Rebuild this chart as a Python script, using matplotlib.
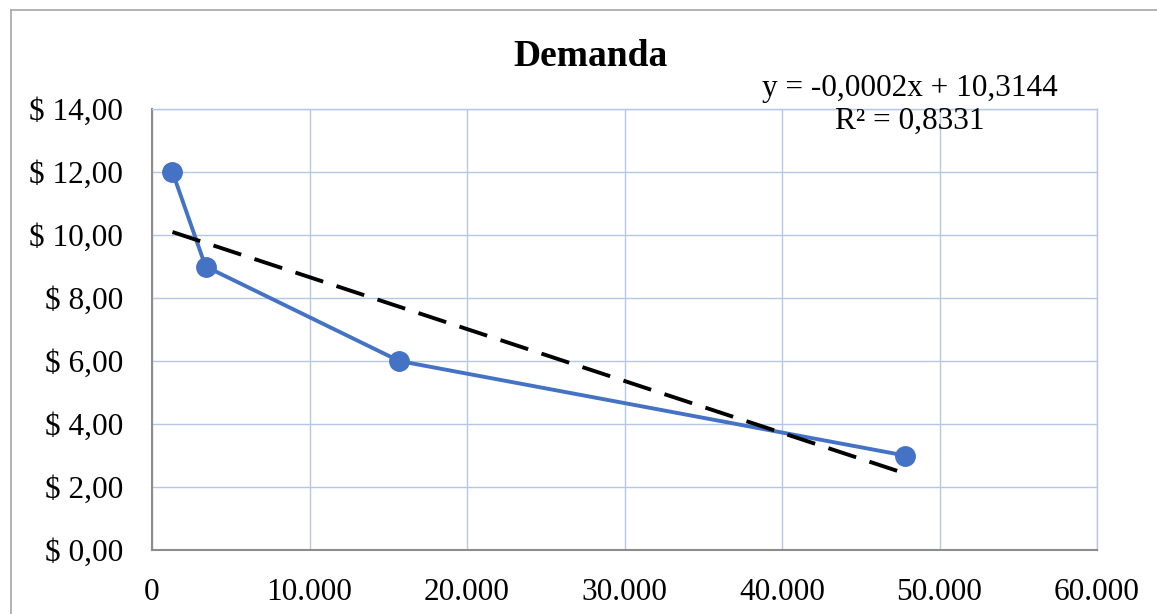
import numpy as np
import matplotlib
matplotlib.use("Agg")
import matplotlib.pyplot as plt
from matplotlib.ticker import FuncFormatter
from matplotlib.lines import Line2D

# demand data: quantity vs price
cantidad = [1300, 3400, 15700, 47800]
precio = [12, 9, 6, 3]
x_ticks = [0, 10000, 20000, 30000, 40000, 50000, 60000]
y_ticks = [0, 2, 4, 6, 8, 10, 12, 14]
eq_text = "y = -0,0002x + 10,3144\nR² = 0,8331"

plt.rcParams["font.family"] = ["Liberation Serif", "DejaVu Serif"]

fig = plt.figure(figsize=(11.57, 6.14), dpi=100)
ax = fig.add_axes([152 / 1157, 1 - 550 / 614, 945 / 1157, 441 / 614])

grid_color = "#b4c7e7"
blue = "#4472c4"

ax.plot(cantidad, precio, color=blue, linewidth=2.8, marker="o",
        markersize=14, zorder=3)

# linear trendline
slope, intercept = np.polyfit(cantidad, precio, 1)
xt = np.array([cantidad[0], cantidad[-1]])
ax.plot(xt, slope * xt + intercept, color="black", linewidth=2.8,
        dashes=(7.5, 3.6), zorder=4)

ax.set_xlim(0, 60000)
ax.set_ylim(0, 14)
ax.set_xticks(x_ticks)
ax.set_yticks(y_ticks)
ax.xaxis.set_major_formatter(FuncFormatter(lambda v, p: f"{int(v):,}".replace(",", ".")))
ax.yaxis.set_major_formatter(FuncFormatter(lambda v, p: f"$ {v:.2f}".replace(".", ",")))
ax.tick_params(axis="both", length=0, labelsize=22.5)
ax.tick_params(axis="x", pad=20)
ax.tick_params(axis="y", pad=21)
ax.grid(True, color=grid_color, linewidth=1.0)
ax.set_axisbelow(True)
for side in ["top", "right"]:
    ax.spines[side].set_color(grid_color)
    ax.spines[side].set_linewidth(1.0)
for side in ["left", "bottom"]:
    ax.spines[side].set_color("#8c8c8c")
    ax.spines[side].set_linewidth(1.5)

fig.text(591 / 1157, 1 - 56 / 614, "Demanda", ha="center", va="center",
         fontsize=27, fontweight="bold")
fig.text(910 / 1157, 1 - 105 / 614, eq_text, ha="center", va="center",
         fontsize=22.5, linespacing=1.15)

# outer chart border (top and left edges visible)
fig.add_artist(Line2D([11 / 1157, 11 / 1157], [0, 1 - 10 / 614],
                      transform=fig.transFigure, color="#a6a6a6", linewidth=1.2))
fig.add_artist(Line2D([11 / 1157, 1], [1 - 10 / 614, 1 - 10 / 614],
                      transform=fig.transFigure, color="#a6a6a6", linewidth=1.2))

fig.savefig("out.png", dpi=100)
